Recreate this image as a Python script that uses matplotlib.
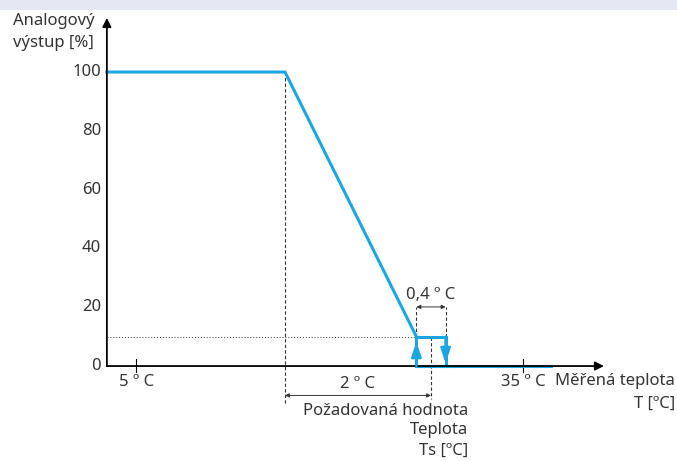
import matplotlib.pyplot as plt
from matplotlib.patches import Rectangle

plt.rcParams['font.family'] = ['Noto Sans', 'DejaVu Sans']

# hodnoty (x = teplota relativne k Ts ve stupnich, schematicky)
ts = 0.0
pasmo = 2.0          # proporcionalni pasmo 2 °C
hyst = 0.4           # hystereze 0,4 °C
x_start = -4.44
x_konec = 1.64
min_vystup = 10
y_ticks = [0, 20, 40, 60, 80, 100]
x_tick_pos = [-4.04, 1.26]
x_tick_labels = ['5 º C', '35 º C']

curve_x = [x_start, ts - pasmo, ts - hyst / 2]
curve_y = [100, 100, min_vystup]
step_x = [ts - hyst / 2, ts - hyst / 2, ts + hyst / 2, ts + hyst / 2]
step_y = [0, min_vystup, min_vystup, 0]
off_x = [ts - hyst / 2, x_konec]
off_y = [0, 0]

modra = '#1ba6e2'
seda = '#333333'
fs = 12

fig = plt.figure(figsize=(6.77, 4.61), dpi=100)
ax = fig.add_axes([0, 0, 1, 1])
ax.set_xlim(-5.904, 3.370)
ax.set_ylim(-32.3, 124.5)
ax.axis('off')

# pruh nahore
fig.patches.append(Rectangle((0, 1 - 10 / 461), 1, 10 / 461, transform=fig.transFigure,
                             facecolor='#e4e7f1', edgecolor='none'))

# osy
ax.annotate('', xy=(x_start, 118.4), xytext=(x_start, 0),
            arrowprops=dict(arrowstyle='-|>', lw=1.3, color='black', mutation_scale=13,
                            shrinkA=0, shrinkB=0))
ax.annotate('', xy=(2.37, 0), xytext=(x_start, 0),
            arrowprops=dict(arrowstyle='-|>', lw=1.3, color='black', mutation_scale=13,
                            shrinkA=0, shrinkB=0))

for v in y_ticks:
    ax.text(-4.52, v, str(v), ha='right', va='center', fontsize=fs, color=seda)

for p, lab in zip(x_tick_pos, x_tick_labels):
    ax.plot([p, p], [-2, 2.5], color='black', lw=0.8)
    ax.text(p, -5.4, lab, ha='center', va='center', fontsize=fs, color=seda)

# pomocne cary
ax.plot([x_start, ts - hyst / 2], [min_vystup, min_vystup], color=seda, lw=0.7, ls=(0, (1, 2)))
ax.plot([ts - pasmo, ts - pasmo], [100, -13.3], color=seda, lw=0.8, ls=(0, (3, 2)))
ax.plot([ts, ts], [min_vystup, -11.2], color=seda, lw=0.8, ls=(0, (3, 2)))
for xx in [ts - hyst / 2, ts + hyst / 2]:
    ax.plot([xx, xx], [min_vystup, 20.1], color=seda, lw=0.8, ls=(0, (3, 2)))

# koty
ax.annotate('', xy=(ts, -10), xytext=(ts - pasmo, -10),
            arrowprops=dict(arrowstyle='<|-|>', lw=0.7, color=seda, mutation_scale=6,
                            shrinkA=0, shrinkB=0))
ax.text(ts - pasmo / 2, -6.1, '2 º C', ha='center', va='center', fontsize=fs, color=seda)
ax.annotate('', xy=(ts + hyst / 2, 20.1), xytext=(ts - hyst / 2, 20.1),
            arrowprops=dict(arrowstyle='<|-|>', lw=0.7, color=seda, mutation_scale=6,
                            shrinkA=0, shrinkB=0))
ax.text(ts, 24.2, '0,4 º C', ha='center', va='center', fontsize=fs, color=seda)

# charakteristika
ax.plot(curve_x, curve_y, color=modra, lw=2.2, solid_joinstyle='miter')
ax.plot(step_x, step_y, color=modra, lw=2.2, solid_joinstyle='miter')
ax.plot(off_x, off_y, color=modra, lw=2.2)
ax.annotate('', xy=(step_x[1], 8.3), xytext=(step_x[0], 0),
            arrowprops=dict(arrowstyle='-|>,head_length=0.9,head_width=0.3', lw=1.8,
                            color=modra, mutation_scale=10, shrinkA=0, shrinkB=0))
ax.annotate('', xy=(step_x[3], 0.9), xytext=(step_x[2], min_vystup),
            arrowprops=dict(arrowstyle='-|>,head_length=0.9,head_width=0.3', lw=1.8,
                            color=modra, mutation_scale=10, shrinkA=0, shrinkB=0))

# popisky
ax.text(-5.73, 117.3, 'Analogový', ha='left', va='center', fontsize=fs, color=seda)
ax.text(-5.73, 109.8, 'výstup [%]', ha='left', va='center', fontsize=fs, color=seda)
ax.text(3.34, -5.1, 'Měřená teplota', ha='right', va='center', fontsize=fs, color=seda)
ax.text(3.34, -12.9, 'T [ºC]', ha='right', va='center', fontsize=fs, color=seda)
ax.text(0.51, -15.3, 'Požadovaná hodnota', ha='right', va='center', fontsize=fs, color=seda)
ax.text(0.51, -21.8, 'Teplota', ha='right', va='center', fontsize=fs, color=seda)
ax.text(0.51, -29.0, 'Ts [ºC]', ha='right', va='center', fontsize=fs, color=seda)

fig.savefig('out.png', dpi=100)
